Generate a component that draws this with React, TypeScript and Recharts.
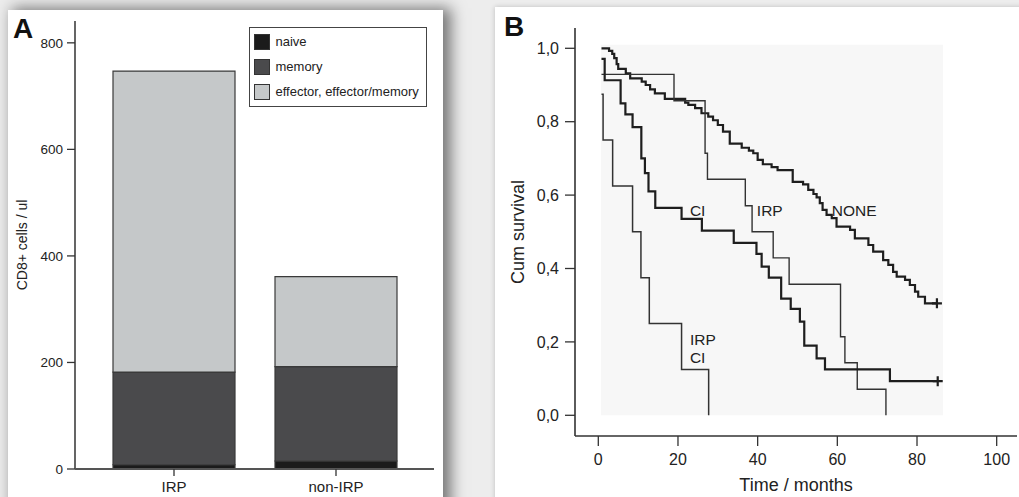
import React from 'react';
import {
  BarChart,
  Bar,
  XAxis,
  YAxis,
  Legend,
  ComposedChart,
  Line,
  ReferenceArea,
  ReferenceDot,
} from 'recharts';

const FONT = '"Liberation Sans", Arial, Helvetica, sans-serif';

// ---------- Panel A data ----------
const groups = ['IRP', 'non-IRP'];
const naiveCells = [8, 15];
const memoryCells = [174, 177];
const effectorCells = [565, 169];
const cellTicks = [0, 200, 400, 600, 800];
const cellSeriesKeys = ['naive', 'memory', 'effector'];
const cellSeriesNames = ['naive', 'memory', 'effector, effector/memory'];

// ---------- Panel B data (time in months, cumulative survival) ----------
const timeTicks = [0, 20, 40, 60, 80, 100];
const survTicks = [0, 0.2, 0.4, 0.6, 0.8, 1.0];

const noneCurve: number[][] = [
  [0.8, 1.0], [2.7, 0.993], [3.5, 0.985], [4.0, 0.973], [4.6, 0.957], [5.0, 0.944],
  [6.9, 0.932], [8.0, 0.918], [10.9, 0.909], [11.9, 0.9], [13.0, 0.888], [14.2, 0.877],
  [16.7, 0.862], [21.8, 0.852], [22.6, 0.846], [24.3, 0.837], [25.9, 0.823], [27.6, 0.814],
  [28.8, 0.804], [30.0, 0.791], [31.3, 0.773], [33.0, 0.74], [36.0, 0.729], [37.8, 0.721],
  [38.9, 0.714], [40.0, 0.696], [41.3, 0.684], [43.5, 0.676], [45.0, 0.668], [48.8, 0.636],
  [51.4, 0.629], [52.7, 0.614], [54.0, 0.603], [54.8, 0.594], [55.6, 0.578], [56.3, 0.56],
  [57.3, 0.546], [58.6, 0.537], [59.8, 0.514], [63.2, 0.505], [64.4, 0.482], [67.8, 0.464],
  [69.0, 0.446], [71.5, 0.423], [72.8, 0.41], [74.0, 0.391], [74.9, 0.378], [77.0, 0.369],
  [78.2, 0.355], [79.5, 0.337], [80.3, 0.323], [82.0, 0.305], [85.0, 0.305],
];
const irpCurve: number[][] = [
  [0.8, 0.929], [19.0, 0.857], [26.8, 0.714], [27.4, 0.643], [36.9, 0.571], [38.6, 0.5],
  [43.9, 0.429], [47.9, 0.357], [60.8, 0.214], [61.9, 0.143], [65.0, 0.071], [72.2, 0],
];
const ciCurve: number[][] = [
  [0.8, 0.971], [1.6, 0.913], [5.6, 0.85], [6.8, 0.82], [8.6, 0.785], [10.8, 0.7],
  [11.7, 0.66], [12.6, 0.61], [14.3, 0.565], [20.9, 0.535], [26.0, 0.503], [34.0, 0.47],
  [39.7, 0.44], [41.0, 0.405], [42.8, 0.375], [45.9, 0.318], [48.3, 0.29], [50.6, 0.255],
  [51.7, 0.19], [54.8, 0.155], [56.9, 0.125], [73.2, 0.093], [85.2, 0.093],
];
const irpCiCurve: number[][] = [
  [0.8, 0.875], [1.2, 0.75], [3.6, 0.625], [8.6, 0.5], [10.7, 0.375], [12.8, 0.25],
  [20.9, 0.125], [27.7, 0],
];
const censorMarks: number[][] = [
  [85.0, 0.305],
  [85.2, 0.093],
];
const curveLabels = ['CI', 'IRP', 'NONE', 'IRP', 'CI'];
const curveLabelPos: number[][] = [
  [23.0, 0.559], [39.8, 0.559], [58.6, 0.559], [23.0, 0.208], [23.0, 0.159],
];
const observedSpan = [0.7, 86.5];

// ---------- styles ----------
const cellColors: Record<string, string> = {
  naive: '#1b1b1b',
  memory: '#4a4a4c',
  effector: '#c5c8c9',
};
const curveStyles = [
  { stroke: '#1e1e1e', width: 2.2 },
  { stroke: '#333', width: 1.4 },
  { stroke: '#1e1e1e', width: 2.2 },
  { stroke: '#333', width: 1.5 },
];

const barData = groups.map((g, i) => ({
  group: g,
  naive: naiveCells[i],
  memory: memoryCells[i],
  effector: effectorCells[i],
}));

const toPts = (c: number[][]) => c.map(([t, s]) => ({ t, s }));
const curves = [noneCurve, irpCurve, ciCurve, irpCiCurve].map(toPts);

const commaFmt = (v: number) => v.toFixed(1).replace('.', ',');

const rotatedLabel = (text: string, dx: number, fontSize: number) => (props: any) => {
  const vb = props.viewBox || {};
  const x = vb.x + dx;
  const y = vb.y + vb.height / 2;
  return (
    <text
      x={x}
      y={y}
      transform={`rotate(-90, ${x}, ${y})`}
      textAnchor="middle"
      dominantBaseline="central"
      fontFamily={FONT}
      fontSize={fontSize}
      fill="#222"
    >
      {text}
    </text>
  );
};

const bottomLabel = (text: string, baselineFromBottom: number, fontSize: number) => (props: any) => {
  const vb = props.viewBox || {};
  return (
    <text
      x={vb.x + vb.width / 2}
      y={vb.y + vb.height - baselineFromBottom}
      textAnchor="middle"
      fontFamily={FONT}
      fontSize={fontSize}
      fill="#222"
    >
      {text}
    </text>
  );
};

const LegendBox = () => (
  <div
    style={{
      border: '1.6px solid #444',
      background: '#fff',
      padding: '1px 0 2px 3.5px',
      boxSizing: 'border-box',
      fontFamily: FONT,
      fontSize: 13,
      color: '#222',
    }}
  >
    {cellSeriesKeys.map((k, i) => (
      <div key={k} style={{ display: 'flex', alignItems: 'center', height: 25 }}>
        <span
          style={{
            display: 'inline-block',
            width: 16,
            height: 16,
            boxSizing: 'border-box',
            background: cellColors[k],
            border: '1px solid #333',
          }}
        />
        <span style={{ marginLeft: 6, whiteSpace: 'nowrap' }}>{cellSeriesNames[i]}</span>
      </div>
    ))}
  </div>
);

const frameStroke = { stroke: '#555', strokeWidth: 1.8 };
const frameStrokeB = { stroke: '#444', strokeWidth: 1.6 };

export default function App() {
  return (
    <div
      style={{
        position: 'fixed',
        left: 0,
        top: 0,
        width: 1019,
        height: 497,
        background: '#ededed',
        overflow: 'hidden',
        fontFamily: FONT,
      }}
    >
      <div
        style={{
          position: 'absolute',
          left: 8,
          top: 10,
          width: 435,
          height: 520,
          background: '#fff',
          boxShadow: '6px 0 14px 2px rgba(0,0,0,0.5)',
        }}
      />
      <div
        style={{
          position: 'absolute',
          left: 495,
          top: 7,
          width: 540,
          height: 520,
          background: '#fff',
          boxShadow: '0 0 5px rgba(0,0,0,0.2)',
        }}
      />

      {/* Panel A */}
      <div style={{ position: 'absolute', left: 0, top: 0 }}>
        <BarChart
          width={443}
          height={497}
          data={barData}
          margin={{ top: 21, right: 9, bottom: 0, left: 0 }}
        >
          <XAxis
            dataKey="group"
            padding={{ left: 18, right: 17 }}
            height={28}
            tickSize={7}
            tickMargin={5}
            interval={0}
            axisLine={frameStroke}
            tickLine={{ stroke: '#333', strokeWidth: 1.3 }}
            tick={{ fill: '#222', fontSize: 15, fontFamily: FONT }}
          />
          <XAxis
            xAxisId="top"
            orientation="top"
            dataKey="group"
            height={0}
            tick={false}
            tickLine={false}
            axisLine={frameStroke}
          />
          <YAxis
            type="number"
            domain={[0, 841]}
            allowDataOverflow
            ticks={cellTicks}
            interval={0}
            width={75}
            tickSize={8}
            tickMargin={4}
            axisLine={frameStroke}
            tickLine={{ stroke: '#333', strokeWidth: 1.3 }}
            tick={{ fill: '#222', fontSize: 13.5, fontFamily: FONT }}
            label={rotatedLabel('CD8+ cells / ul', 22, 14)}
          />
          <YAxis
            yAxisId="right"
            orientation="right"
            domain={[0, 1]}
            width={0}
            tick={false}
            tickLine={false}
            axisLine={frameStroke}
          />
          <Legend
            layout="vertical"
            align="center"
            verticalAlign="middle"
            wrapperStyle={{ left: 249, top: 27, width: 178 }}
            content={() => <LegendBox />}
          />
          {cellSeriesKeys.map((k, i) => (
            <Bar
              key={k}
              dataKey={k}
              name={cellSeriesNames[i]}
              stackId="cells"
              fill={cellColors[k]}
              stroke="#3a3a3a"
              strokeWidth={1.2}
              barSize={122}
              isAnimationActive={false}
            />
          ))}
        </BarChart>
      </div>

      {/* Panel B */}
      <div style={{ position: 'absolute', left: 495, top: 0 }}>
        <ComposedChart
          width={524}
          height={497}
          margin={{ top: 28, right: 2, bottom: 0, left: 0 }}
        >
          <XAxis
            type="number"
            dataKey="t"
            domain={[-5.85, 105.1]}
            allowDataOverflow
            ticks={timeTicks}
            interval={0}
            height={61}
            tickSize={10}
            tickMargin={8}
            axisLine={{ stroke: '#333', strokeWidth: 1.6 }}
            tickLine={{ stroke: '#333', strokeWidth: 1.3 }}
            tick={{ fill: '#222', fontSize: 16, fontFamily: FONT }}
            label={bottomLabel('Time / months', 6, 18)}
          />
          <XAxis
            xAxisId="top"
            orientation="top"
            type="number"
            domain={[-5.85, 105.1]}
            allowDataOverflow
            height={0}
            tick={false}
            tickLine={false}
            axisLine={frameStrokeB}
          />
          <YAxis
            type="number"
            domain={[-0.0564, 1.0553]}
            allowDataOverflow
            ticks={survTicks}
            interval={0}
            width={80}
            tickSize={10}
            tickMargin={6}
            tickFormatter={commaFmt}
            axisLine={{ stroke: '#333', strokeWidth: 1.6 }}
            tickLine={{ stroke: '#333', strokeWidth: 1.3 }}
            tick={{ fill: '#222', fontSize: 16, fontFamily: FONT }}
            label={rotatedLabel('Cum survival', 23, 18)}
          />
          <YAxis
            yAxisId="right"
            orientation="right"
            type="number"
            domain={[0, 1]}
            width={0}
            tick={false}
            tickLine={false}
            axisLine={frameStrokeB}
          />
          <ReferenceArea
            x1={observedSpan[0]}
            x2={observedSpan[1]}
            y1={0}
            y2={1.01}
            fill="#f7f7f7"
            fillOpacity={1}
            stroke="none"
          />
          {curves.map((d, i) => (
            <Line
              key={i}
              data={d}
              dataKey="s"
              type="stepAfter"
              stroke={curveStyles[i].stroke}
              strokeWidth={curveStyles[i].width}
              dot={false}
              activeDot={false}
              isAnimationActive={false}
            />
          ))}
          {censorMarks.map(([t, s], i) => (
            <ReferenceDot
              key={'c' + i}
              x={t}
              y={s}
              r={5}
              shape={(p: any) => (
                <path
                  d={`M${p.cx - 5},${p.cy}h10M${p.cx},${p.cy - 5}v10`}
                  stroke="#1e1e1e"
                  strokeWidth={2.2}
                  fill="none"
                />
              )}
            />
          ))}
          {curveLabels.map((txt, i) => (
            <ReferenceDot
              key={'l' + i}
              x={curveLabelPos[i][0]}
              y={curveLabelPos[i][1]}
              r={1}
              shape={(p: any) => (
                <text
                  x={p.cx}
                  y={p.cy}
                  dy="0.36em"
                  textAnchor="start"
                  fontFamily={FONT}
                  fontSize={15.5}
                  fill="#222"
                >
                  {txt}
                </text>
              )}
            />
          ))}
        </ComposedChart>
      </div>

      <div
        style={{
          position: 'absolute',
          left: 13,
          top: 15,
          fontSize: 28,
          lineHeight: '28px',
          fontWeight: 900,
          color: '#111',
          fontFamily: FONT,
        }}
      >
        A
      </div>
      <div
        style={{
          position: 'absolute',
          left: 504,
          top: 13,
          fontSize: 28,
          lineHeight: '28px',
          fontWeight: 900,
          color: '#111',
          fontFamily: FONT,
        }}
      >
        B
      </div>
    </div>
  );
}
